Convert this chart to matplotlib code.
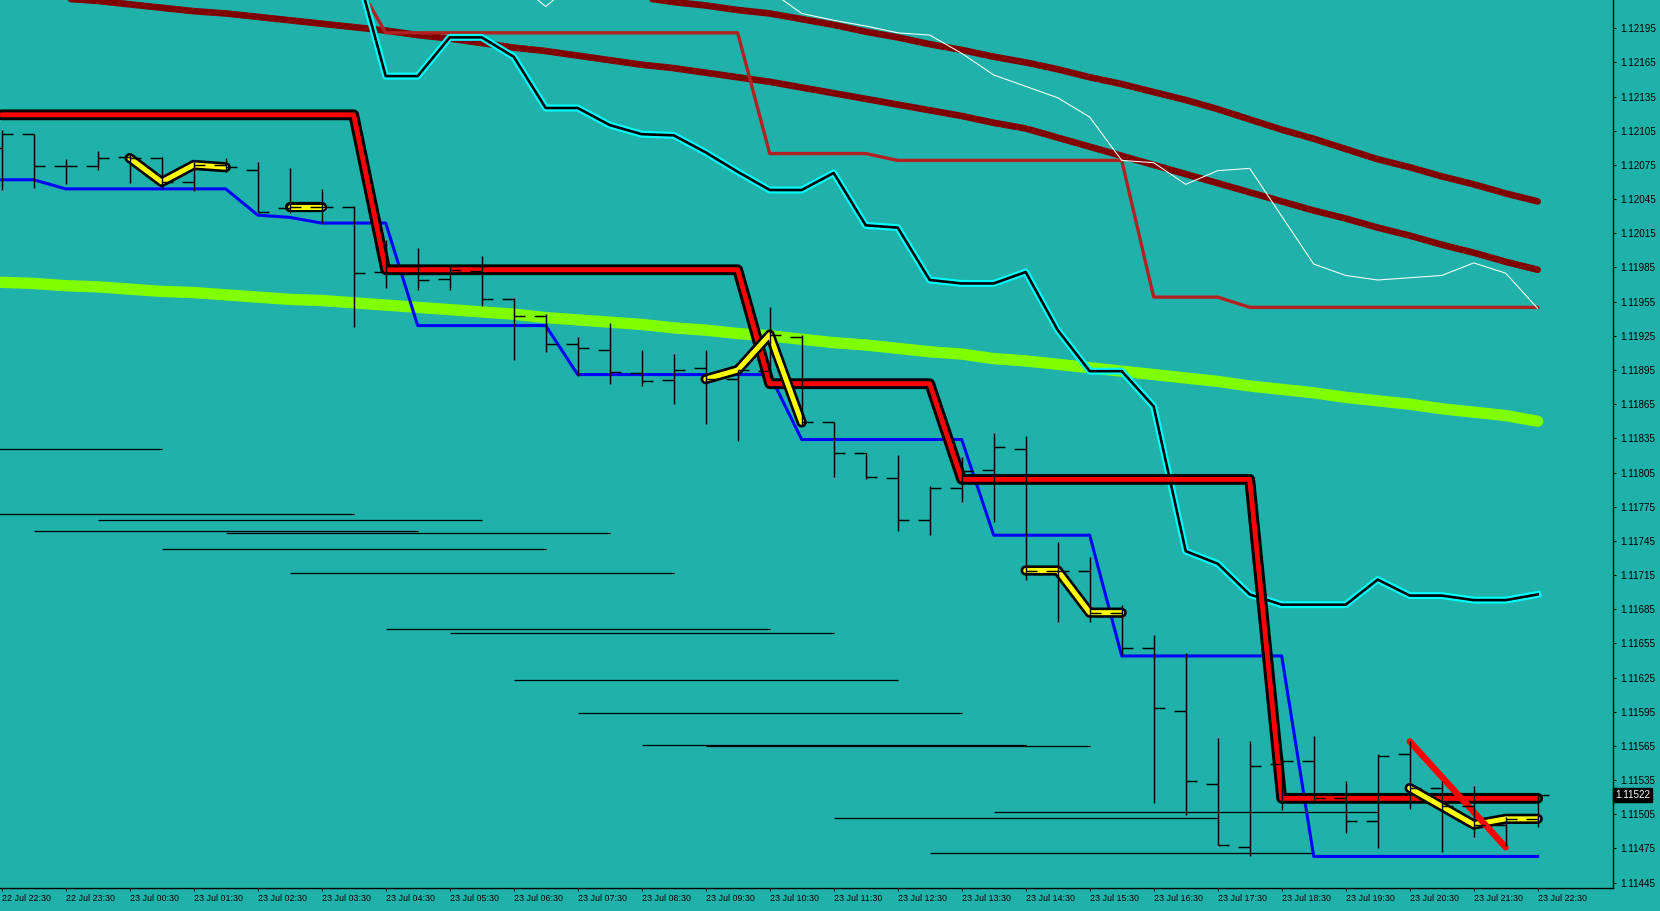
import matplotlib
matplotlib.use("Agg")
import matplotlib.pyplot as plt
from matplotlib.transforms import blended_transform_factory
import numpy as np
import pandas as pd

plt.rcParams['font.family'] = ['Liberation Sans', 'DejaVu Sans']

# ---------------- data (prices in 5-digit points) ----------------
bar_times = pd.date_range("2019-07-22 22:30", periods=49, freq="30min")

open_pts = [112090, 112102, 112074, 112074, 112082, 112081, 112060, 112075, 112071, 112037,
            112038, 112038, 111981, 111986, 111975, 111982, 111957, 111942, 111918, 111913,
            111892, 111886, 111897, 111887, 111894, 111924, 111849, 111822, 111800, 111763,
            111791, 111807, 111826, 111719, 111719, 111682, 111651, 111596, 111532, 111476,
            111549, 111552, 111519, 111499, 111558, 111528, 111512, 111496, 111501]
high_pts = [112106, 112102, 112080, 112087, 112084, 112082, 112078, 112081, 112078, 112072,
            112054, 112039, 112009, 112002, 111986, 111995, 111958, 111944, 111924, 111936,
            111913, 111909, 111913, 111895, 111950, 111926, 111849, 111822, 111820, 111793,
            111819, 111840, 111837, 111744, 111731, 111689, 111662, 111647, 111572, 111569,
            111556, 111574, 111534, 111558, 111569, 111534, 111530, 111503, 111524]
low_pts = [112053, 112055, 112058, 112071, 112059, 112055, 112052, 112069, 112034, 112033,
           112024, 111933, 111967, 111965, 111965, 111951, 111904, 111911, 111890, 111883,
           111881, 111865, 111848, 111833, 111888, 111847, 111801, 111799, 111754, 111750,
           111779, 111762, 111711, 111674, 111674, 111645, 111515, 111504, 111478, 111468,
           111509, 111515, 111489, 111475, 111510, 111472, 111485, 111477, 111494]
close_pts = [112102, 112074, 112074, 112081, 112081, 112060, 112075, 112073, 112034, 112038,
             112038, 111980, 111986, 111974, 111983, 111957, 111942, 111918, 111914, 111893,
             111885, 111895, 111887, 111895, 111926, 111849, 111822, 111801, 111763, 111791,
             111806, 111827, 111719, 111719, 111682, 111651, 111598, 111534, 111478, 111547,
             111552, 111519, 111499, 111556, 111528, 111512, 111496, 111501, 111522]

lime_ma = [111972, 111971, 111969, 111968, 111966, 111964, 111963, 111961, 111959, 111957,
           111956, 111954, 111952, 111950, 111948, 111946, 111944, 111941, 111939, 111937,
           111935, 111932, 111930, 111927, 111925, 111922, 111919, 111917, 111914, 111911,
           111909, 111905, 111903, 111900, 111897, 111894, 111891, 111888, 111885, 111881,
           111878, 111875, 111871, 111868, 111865, 111861, 111858, 111855, 111850]

maroon_upper = [112282, 112279, 112276, 112273, 112270, 112267, 112264, 112261, 112258, 112255,
                112252, 112249, 112246, 112243, 112240, 112237, 112234, 112231, 112228, 112225,
                112222, 112218, 112215, 112211, 112208, 112203, 112198, 112192, 112187, 112181,
                112176, 112170, 112165, 112159, 112152, 112146, 112139, 112132, 112124, 112115,
                112106, 112098, 112089, 112080, 112073, 112065, 112058, 112050, 112043]
maroon_lower = [112227, 112224, 112221, 112219, 112216, 112213, 112210, 112208, 112205, 112202,
                112199, 112196, 112193, 112189, 112186, 112182, 112178, 112175, 112171, 112167,
                112163, 112160, 112156, 112152, 112148, 112143, 112138, 112133, 112128, 112123,
                112118, 112112, 112107, 112099, 112091, 112083, 112075, 112067, 112059, 112051,
                112043, 112035, 112028, 112020, 112013, 112005, 111998, 111990, 111983]

brick_step = [112240, 112240, 112240, 112240, 112240, 112240, 112240, 112240, 112240, 112240,
              112240, 112240, 112191, 112191, 112191, 112191, 112191, 112191, 112191, 112191,
              112191, 112191, 112191, 112191, 112085, 112085, 112085, 112085, 112079, 112079,
              112079, 112079, 112079, 112079, 112079, 112079, 111959, 111959, 111959, 111950,
              111950, 111950, 111950, 111950, 111950, 111950, 111950, 111950, 111950]

red_step = [112119, 112119, 112119, 112119, 112119, 112119, 112119, 112119, 112119, 112119,
            112119, 112119, 111983, 111983, 111983, 111983, 111983, 111983, 111983, 111983,
            111983, 111983, 111983, 111983, 111883, 111883, 111883, 111883, 111883, 111883,
            111799, 111799, 111799, 111799, 111799, 111799, 111799, 111799, 111799, 111799,
            111519, 111519, 111519, 111519, 111519, 111519, 111519, 111519, 111519]

blue_step = [112062, 112062, 112054, 112054, 112054, 112054, 112054, 112054, 112031, 112029,
             112024, 112024, 112024, 111934, 111934, 111934, 111934, 111934, 111891, 111891,
             111891, 111891, 111891, 111891, 111891, 111834, 111834, 111834, 111834, 111834,
             111834, 111750, 111750, 111750, 111750, 111644, 111644, 111644, 111644, 111644,
             111644, 111468, 111468, 111468, 111468, 111468, 111468, 111468, 111468]

cyan_start = 11
cyan_line = [112256, 112153, 112153, 112187, 112187, 112170, 112125, 112125, 112110, 112102,
             112101, 112086, 112069, 112053, 112053, 112068, 112022, 112020, 111974, 111971,
             111971, 111981, 111930, 111894, 111894, 111863, 111736, 111725, 111698, 111689,
             111689, 111689, 111711, 111697, 111697, 111693, 111693, 111698]

white_start = 16
white_line = [112238, 112214, 112238, 112245, 112250, 112250, 112245, 112240, 112228, 112208,
              112202, 112197, 112191, 112189, 112173, 112154, 112144, 112134, 112117, 112079,
              112077, 112058, 112070, 112072, 112030, 111988, 111978, 111974, 111976, 111978,
              111989, 111980, 111949]

level_start = [-7, -1, 3, 1, 7, 5, 9, 12, 14, 16, 18, 20, 22, 31, 26, 29]
level_end = [5, 11, 15, 13, 19, 17, 21, 24, 26, 28, 30, 32, 34, 43, 38, 41]
level_pts = [111826, 111769, 111763, 111754, 111752, 111738, 111717, 111668, 111664,
             111623, 111594, 111566, 111565, 111507, 111502, 111471]

yellow_bars = [[4, 5, 6, 7], [9, 10], [22, 23, 24, 25], [32, 33, 34, 35], [44, 46, 47, 48]]
yellow_pts = [[112081, 112060, 112075, 112073], [112038, 112038],
              [111887, 111895, 111926, 111849], [111719, 111719, 111682, 111682],
              [111528, 111496, 111501, 111501]]

red_diag_bars = [44, 47]
red_diag_pts = [111569, 111476]

current_price = "1.11522"

price_tick_labels = ["1.11445", "1.11475", "1.11505", "1.11535", "1.11565", "1.11595",
                     "1.11625", "1.11655", "1.11685", "1.11715", "1.11745", "1.11775",
                     "1.11805", "1.11835", "1.11865", "1.11895", "1.11925", "1.11955",
                     "1.11985", "1.12015", "1.12045", "1.12075", "1.12105", "1.12135",
                     "1.12165", "1.12195"]

# ---------------- drawing ----------------
BG = "#20B2AA"
P = 1e-5


def px(v):
    return np.asarray(v, dtype=float) * P


W, H = 1660, 911
fig = plt.figure(figsize=(W / 100, H / 100), dpi=100, facecolor=BG)
ax = fig.add_axes([0, 1 - 888 / H, 1613 / W, 888 / H])
ax.set_facecolor(BG)

x = np.arange(len(open_pts))

# horizontal levels
ax.hlines(px(level_pts), level_start, level_end, colors="black", linewidth=0.9, zorder=1)

# indicator lines
ax.plot(x, px(lime_ma), color="#7FFF00", linewidth=8.2, solid_capstyle="round", zorder=2)
ax.plot(x, px(maroon_upper), color="#800000", linewidth=4.8, solid_capstyle="round", zorder=3)
ax.plot(x, px(maroon_lower), color="#800000", linewidth=4.8, solid_capstyle="round", zorder=3)
ax.plot(x, px(brick_step), color="#B22222", linewidth=2.4, zorder=3)

wx = np.arange(white_start, white_start + len(white_line))
ax.plot(wx, px(white_line), color="white", linewidth=0.75, zorder=3.5)

cx = np.arange(cyan_start, cyan_start + len(cyan_line))
ax.plot(cx, px(cyan_line), color="#00FFFF", linewidth=5.0, zorder=4)
ax.plot(cx, px(cyan_line), color="black", linewidth=1.9, zorder=4.1)

ax.plot(x, px(blue_step), color="#0000FF", linewidth=2.2, zorder=5)

ax.plot(x, px(red_step), color="black", linewidth=7.8, solid_capstyle="round",
        solid_joinstyle="round", zorder=6)
ax.plot(x, px(red_step), color="#FF0000", linewidth=3.5, solid_capstyle="round",
        solid_joinstyle="round", zorder=6.1)

for bx, by in zip(yellow_bars, yellow_pts):
    ax.plot(bx, px(by), color="black", linewidth=7.4, solid_capstyle="round",
            solid_joinstyle="round", zorder=7)
    ax.plot(bx, px(by), color="#FFFF00", linewidth=3.6, solid_capstyle="round",
            solid_joinstyle="round", zorder=7.1)

ax.plot(red_diag_bars, px(red_diag_pts), color="#FF0000", linewidth=4.6,
        solid_capstyle="round", zorder=8)

# OHLC bars (foreground)
tick = 0.36
ax.vlines(x, px(low_pts), px(high_pts), colors="black", linewidth=1.05, zorder=10)
ax.hlines(px(open_pts), x - tick, x, colors="black", linewidth=1.05, zorder=10)
ax.hlines(px(close_pts), x, x + tick, colors="black", linewidth=1.05, zorder=10)

# axes limits
ax.set_xlim(-1.7 / 32, (1613 - 1.7) / 32)
ax.set_ylim(1.114403, 1.122198)

# spines
for s in ["top", "left"]:
    ax.spines[s].set_visible(False)
for s in ["bottom", "right"]:
    ax.spines[s].set_color("black")
    ax.spines[s].set_linewidth(1.0)

# y ticks on right
ax.yaxis.tick_right()
ax.set_yticks([float(t) for t in price_tick_labels])
ax.set_yticklabels(price_tick_labels)
ax.tick_params(axis="y", direction="out", length=2.5, width=0.8, pad=3,
               labelsize=7.1, colors="black")

# x ticks
ax.set_xticks(x[::2])
ax.set_xticklabels([t.strftime("%d %b %H:%M") for t in bar_times[::2]])
ax.tick_params(axis="x", direction="out", length=2.5, width=0.8, pad=1.8,
               labelsize=6.4, colors="black")
for lab in ax.get_xticklabels():
    lab.set_horizontalalignment("left")

# current price label
trans = blended_transform_factory(ax.transAxes, ax.transData)
ax.text(1.0015, float(current_price), current_price, transform=trans, color="white",
        fontsize=7.1, va="center", ha="left", zorder=20, clip_on=False,
        bbox=dict(facecolor="black", edgecolor="black", pad=1.4))

fig.savefig("out.png", dpi=100, facecolor=BG)
